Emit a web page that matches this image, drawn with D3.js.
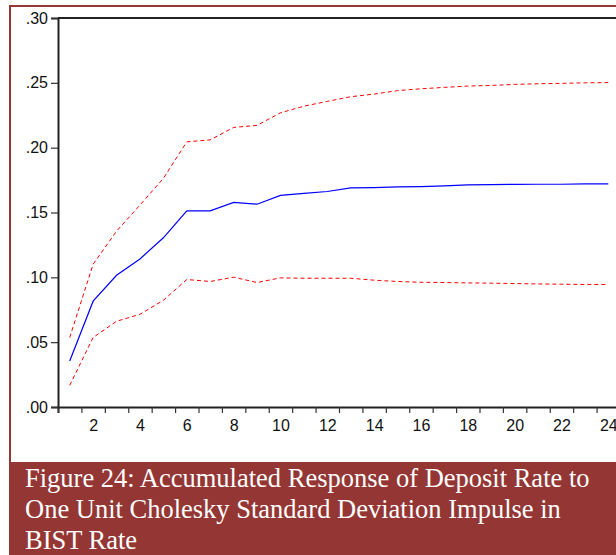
<!DOCTYPE html>
<html>
<head>
<meta charset="utf-8">
<script src="https://cdn.jsdelivr.net/npm/d3@7"></script>
<style>
  body { margin: 0; background: #fff; }
  svg { display: block; }
</style>
</head>
<body>
<div id="grafico"></div>
<script>
// periods 1..24
var periods = d3.range(1, 25);
var response = [0.0355, 0.0816, 0.1016, 0.1142, 0.1305, 0.1513, 0.1513, 0.1578, 0.1564, 0.1632,
  0.1648, 0.1662, 0.1690, 0.1692, 0.1697, 0.1700, 0.1705, 0.1713, 0.1715, 0.1717,
  0.1718, 0.1718, 0.1720, 0.1720];
var upperBand = [0.0536, 0.1101, 0.1356, 0.1557, 0.1763, 0.2045, 0.2060, 0.2156, 0.2172, 0.2269,
  0.2320, 0.2357, 0.2393, 0.2413, 0.2440, 0.2454, 0.2465, 0.2475, 0.2480, 0.2488,
  0.2493, 0.2496, 0.2500, 0.2502];
var lowerBand = [0.0167, 0.0536, 0.0661, 0.0715, 0.0823, 0.0983, 0.0968, 0.1001, 0.0960, 0.0996,
  0.0993, 0.0993, 0.0993, 0.0978, 0.0968, 0.0962, 0.0960, 0.0957, 0.0955, 0.0952,
  0.0949, 0.0947, 0.0945, 0.0945];
var yTicks = [0, 0.05, 0.10, 0.15, 0.20, 0.25, 0.30];
var xLabels = [2, 4, 6, 8, 10, 12, 14, 16, 18, 20, 22, 24];
var captionLines = [
  "Figure 24: Accumulated Response of Deposit Rate to",
  "One Unit Cholesky Standard Deviation Impulse in",
  "BIST Rate"
];

var svgWidth = 616;
var svgHeight = 555;
var frameColor = "#943634";

var svg = d3.select("#grafico")
  .append("svg")
  .attr("width", svgWidth)
  .attr("height", svgHeight);

// outer frame (top + left) and caption band
svg.append("line")
  .attr("x1", 9).attr("x2", svgWidth).attr("y1", 6).attr("y2", 6)
  .attr("stroke", frameColor).attr("stroke-width", 2);
svg.append("line")
  .attr("x1", 10).attr("x2", 10).attr("y1", 5).attr("y2", 462)
  .attr("stroke", frameColor).attr("stroke-width", 2);
svg.append("rect")
  .attr("x", 9).attr("y", 462)
  .attr("width", svgWidth - 9).attr("height", svgHeight - 462)
  .attr("fill", frameColor);

svg.selectAll(".caption")
  .data(captionLines)
  .enter()
  .append("text")
  .attr("class", "caption")
  .attr("x", 25)
  .attr("y", (d, i) => 487 + i * 31)
  .attr("fill", "#fff")
  .attr("font-family", "'Liberation Serif', 'Times New Roman', serif")
  .attr("font-size", "26.5px")
  .text(d => d);

// plot area
var plotLeft = 58, plotTop = 18, plotBottom = 407;

var xScale = d3.scaleLinear()
  .domain([0.5, 24.5])
  .range([plotLeft, 620]);

var yScale = d3.scaleLinear()
  .domain([0, 0.30])
  .range([plotBottom, plotTop]);

var chart = svg.append("g");

// top border of plot
chart.append("line")
  .attr("x1", plotLeft).attr("x2", xScale(24.5))
  .attr("y1", plotTop).attr("y2", plotTop)
  .attr("stroke", "#222").attr("stroke-width", 2);

var fmt = d => d3.format(".2f")(d).replace(/^0/, "");

var yAxis = chart.append("g")
  .attr("transform", "translate(" + plotLeft + ",0)")
  .call(d3.axisLeft(yScale).tickValues(yTicks).tickFormat(fmt).tickSize(7).tickPadding(3));

var xTickAxis = chart.append("g")
  .attr("transform", "translate(0," + plotBottom + ")")
  .call(d3.axisBottom(xScale).tickValues(d3.range(0.5, 25, 1)).tickFormat("").tickSize(6));

var xLabelAxis = chart.append("g")
  .attr("transform", "translate(0," + plotBottom + ")")
  .call(d3.axisBottom(xScale).tickValues(xLabels).tickFormat(d3.format("d")).tickSize(0).tickPadding(13));

[yAxis, xTickAxis, xLabelAxis].forEach(function (g) {
  g.attr("font-family", "'Liberation Sans', Arial, sans-serif")
    .attr("font-size", 16);
  g.selectAll("text").attr("fill", "#111");
  g.selectAll(".tick line").attr("stroke", "#333").attr("stroke-width", 1.2);
  g.select(".domain").attr("stroke", "#222").attr("stroke-width", 2);
});
xLabelAxis.select(".domain").remove();

var line = d3.line()
  .x((d, i) => xScale(periods[i]))
  .y(d => yScale(d));

chart.append("path")
  .datum(upperBand)
  .attr("fill", "none")
  .attr("stroke", "#ff0000")
  .attr("stroke-width", 1)
  .attr("stroke-dasharray", "4,3")
  .attr("d", line);

chart.append("path")
  .datum(lowerBand)
  .attr("fill", "none")
  .attr("stroke", "#ff0000")
  .attr("stroke-width", 1)
  .attr("stroke-dasharray", "4,3")
  .attr("d", line);

chart.append("path")
  .datum(response)
  .attr("fill", "none")
  .attr("stroke", "#0000ff")
  .attr("stroke-width", 1.2)
  .attr("d", line);
</script>
</body>
</html>
